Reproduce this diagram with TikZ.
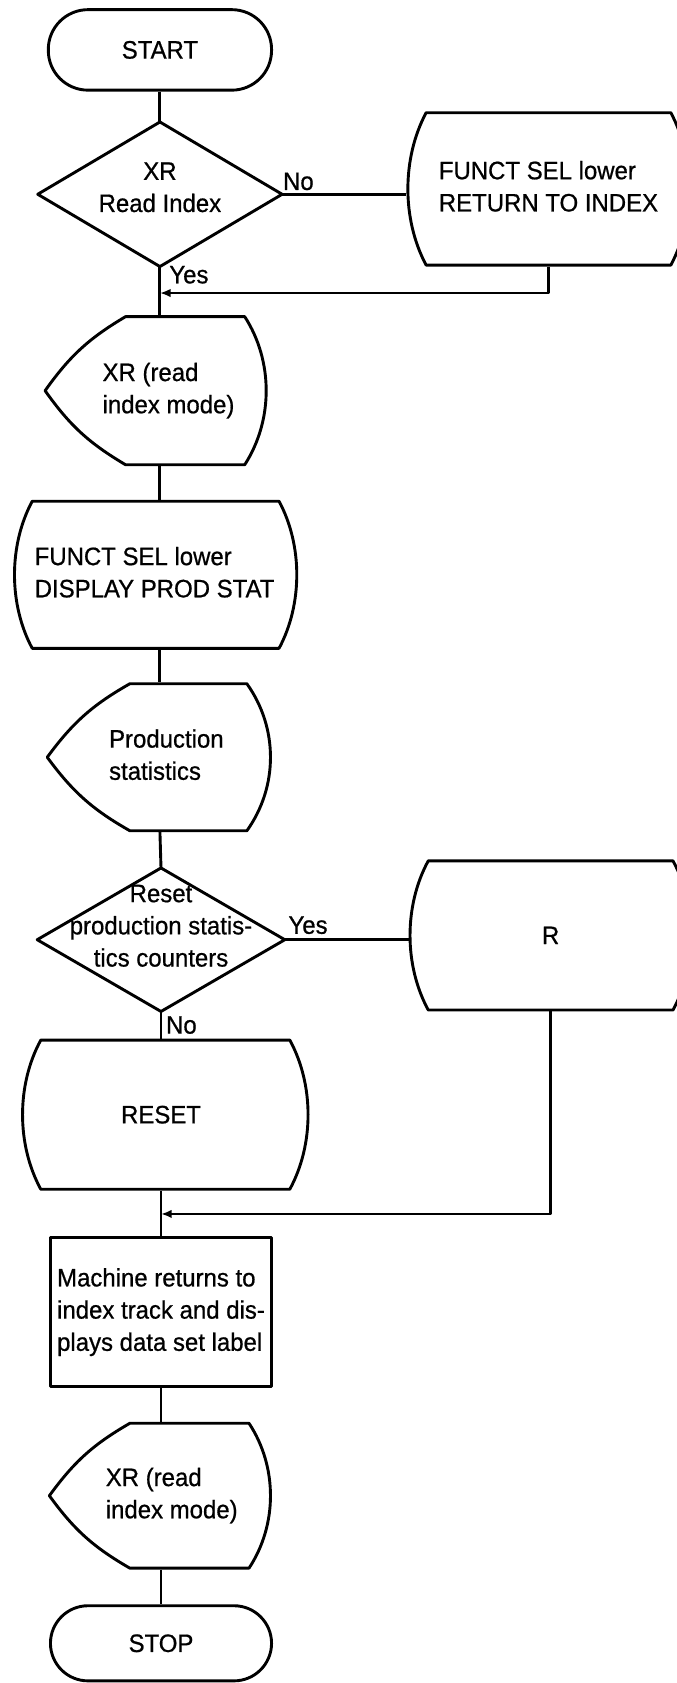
\documentclass[tikz,border=0pt]{standalone}
\usepackage{fontspec}
\setmainfont{Liberation Sans}[FakeStretch=0.95,FakeBold=0.7]
\usetikzlibrary{arrows.meta,calc}
% left-aligned text block: #1 horizontal shift (x2), #2 extra bottom space, #3 lines
\newcommand\txtl[3]{\hspace*{#1}\begin{tabular}{@{}l@{}}#3\\[#2]\end{tabular}}
% centred text block: #1 extra bottom space, #2 lines
\newcommand\txtc[2]{\begin{tabular}{@{}c@{}}#2\\[#1]\end{tabular}}
% box with straight top/bottom and outward-bulging sides
% #1 name, #2 half height, #3 left straight dx, #4 right straight dx, #5 bulge
\newcommand\curvebox[5]{%
  \draw[shift={(#1.center)}] (#3,#2) -- (#4,#2)
    .. controls ({#4+1.3333*#5},{0.4*#2}) and ({#4+1.3333*#5},{-0.4*#2}) .. (#4,-#2)
    -- (#3,-#2)
    .. controls ({#3-1.3333*#5},{-0.4*#2}) and ({#3-1.3333*#5},{0.4*#2}) .. (#3,#2) -- cycle;}
% display symbol: #1 name, #2 half height, #3 point dx, #4 left straight dx, #5 right straight dx, #6 bulge
\newcommand\dispout[6]{%
  \draw[shift={(#1.center)}] (#4,#2) -- (#5,#2)
    .. controls ({#5+1.3333*#6},{0.4*#2}) and ({#5+1.3333*#6},{-0.4*#2}) .. (#5,-#2)
    -- (#4,-#2) to[bend left=12] (#3,0) to[bend left=12] (#4,#2) -- cycle;}
\begin{document}
\begin{tikzpicture}[x=1pt,y=1pt,line width=2.7pt,line join=round,
  every node/.style={font=\fontsize{23.5}{30}\selectfont, inner sep=0pt},
  term/.style={draw, rectangle},
  hold/.style={rectangle},
  proc/.style={draw, rectangle},
  lab/.style={},
  arr/.style={-{Latex[length=10pt,width=8pt]}}]
\fill[white] (0,0) rectangle (630,-1568);
\useasboundingbox (0,0) rectangle (630,-1568);

% nodes
\node[term, minimum width=208, minimum height=75, rounded corners=37pt] (start) at (149,-46.5) {START};

\node[hold, minimum width=225, minimum height=132] (d1) at (149,-181) {\txtc{9pt}{XR\\Read Index}};
\draw (d1.north) -- (d1.east) -- (d1.south) -- (d1.west) -- cycle;
\node[lab] (no1) at (278,-169) {No};

\node[hold, minimum width=262, minimum height=142] (A) at (511,-176) {\txtl{0pt}{0pt}{FUNCT SEL lower\\RETURN TO INDEX}};
\curvebox{A}{71}{-114}{114}{17}
\node[lab] (yes1) at (176,-256) {Yes};
\coordinate (j1) at (149,-273);

\node[hold, minimum width=212, minimum height=138] (D1) at (149,-364) {\txtl{16pt}{0pt}{XR (read\\index mode)}};
\dispout{D1}{69}{-107}{-32}{79}{20}

\node[hold, minimum width=264, minimum height=137] (P1) at (149,-535.5) {\txtl{-10pt}{0pt}{FUNCT SEL lower\\DISPLAY PROD STAT}};
\curvebox{P1}{68.5}{-119}{111}{16.5}

\node[hold, minimum width=210, minimum height=137] (D2) at (149,-705.5) {\txtl{12pt}{0pt}{Production\\statistics}};
\dispout{D2}{68.5}{-105}{-28}{81}{22}

\node[hold, minimum width=228, minimum height=131] (d2) at (150,-875.5) {\txtc{22pt}{Reset\\production statis-\\tics counters}};
\draw (d2.north) -- (d2.east) -- (d2.south) -- (d2.west) -- cycle;
\node[lab] (yes2) at (287,-862) {Yes};

\node[hold, minimum width=262, minimum height=139] (B) at (513,-871.5) {R};
\curvebox{B}{69.5}{-114}{114}{17}
\node[lab] (no2) at (169,-955) {No};

\node[hold, minimum width=266, minimum height=139] (reset) at (150,-1038.5) {RESET};
\curvebox{reset}{69.5}{-112}{120}{17}
\coordinate (j2) at (150,-1131);

\node[proc, minimum width=206, minimum height=139] (rect) at (150,-1222.5) {\txtl{0pt}{0pt}{Machine returns to\\index track and dis-\\plays data set label}};

\node[hold, minimum width=210, minimum height=135] (D3) at (150,-1393.5) {\txtl{20pt}{0pt}{XR (read\\index mode)}};
\dispout{D3}{67.5}{-104}{-29}{82}{20}

\node[term, minimum width=206, minimum height=70, rounded corners=35pt] (stop) at (150,-1531) {STOP};

% connectors
\draw (start.south) -- (d1.north);
\draw (d1.south) -- (D1.north);
\draw (d1.east) -- (d1.east -| A.west);
\draw[arr] (A.south) |- (j1);
\draw (D1.south) -- (P1.north);
\draw (P1.south) -- (D2.north);
\draw (D2.south) -- (d2.north);
\draw (d2.east) -- (d2.east -| B.west);
\draw (d2.south) -- (reset.north);
\draw (reset.south) -- (rect.north);
\draw[arr] (B.south) |- (j2);
\draw (rect.south) -- (D3.north);
\draw (D3.south) -- (stop.north);
\end{tikzpicture}
\end{document}
